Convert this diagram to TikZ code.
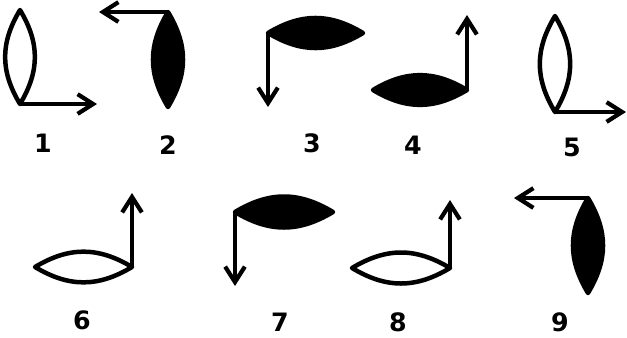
\documentclass[tikz,border=0pt]{standalone}
\usepackage{fontspec}
\setmainfont{DejaVu Sans}
\usetikzlibrary{arrows.meta}

\begin{document}
\begin{tikzpicture}[x=0.025cm, y=-0.025cm,
    lens/.style={line width=3.2pt, line join=round},
    dark/.style={lens, fill=black},
    bulge/.style={bend left=31, looseness=1.05},
    ray/.style={line width=3pt,
        -{Straight Barb[length=11pt, width=14pt, line width=3pt]}},
    num/.style={font=\fontsize{18}{20}\selectfont\bfseries},
]
\useasboundingbox (0,0) rectangle (627,337);

% 1: open lens, ray to the right
\coordinate (t1) at (20,10);
\coordinate (b1) at (20,104);
\coordinate (e1) at (97,104);
\draw[lens] (t1) to[bulge] (b1) to[bulge] cycle;
\draw[ray] (b1) -- (e1);
\node[num] (n1) at (43,143) {1};

% 2: dark lens, ray to the left
\coordinate (t2) at (168,12);
\coordinate (b2) at (168,107);
\coordinate (e2) at (99,12);
\draw[dark] (t2) to[bulge] (b2) to[bulge] cycle;
\draw[ray] (t2) -- (e2);
\node[num] (n2) at (168,145) {2};

% 3: dark lens, ray down
\coordinate (l3) at (268,33);
\coordinate (r3) at (363,33);
\coordinate (e3) at (268,107);
\draw[dark] (l3) to[bulge] (r3) to[bulge] cycle;
\draw[ray] (l3) -- (e3);
\node[num] (n3) at (312,143) {3};

% 4: dark lens, ray up
\coordinate (l4) at (373,90);
\coordinate (r4) at (467,90);
\coordinate (e4) at (467,15);
\draw[dark] (l4) to[bulge] (r4) to[bulge] cycle;
\draw[ray] (r4) -- (e4);
\node[num] (n4) at (413,145) {4};

% 5: open lens, ray to the right
\coordinate (t5) at (555,16);
\coordinate (b5) at (555,112);
\coordinate (e5) at (626,112);
\draw[lens] (t5) to[bulge] (b5) to[bulge] cycle;
\draw[ray] (b5) -- (e5);
\node[num] (n5) at (572,147) {5};

% 6: open lens, ray up
\coordinate (l6) at (35,267);
\coordinate (r6) at (132,267);
\coordinate (e6) at (132,193);
\draw[lens] (l6) to[bulge] (r6) to[bulge] cycle;
\draw[ray] (r6) -- (e6);
\node[num] (n6) at (82,320) {6};

% 7: dark lens, ray down
\coordinate (l7) at (235,212);
\coordinate (r7) at (333,212);
\coordinate (e7) at (235,286);
\draw[dark] (l7) to[bulge] (r7) to[bulge] cycle;
\draw[ray] (l7) -- (e7);
\node[num] (n7) at (280,322) {7};

% 8: open lens, ray up
\coordinate (l8) at (352,268);
\coordinate (r8) at (450,268);
\coordinate (e8) at (450,200);
\draw[lens] (l8) to[bulge] (r8) to[bulge] cycle;
\draw[ray] (r8) -- (e8);
\node[num] (n8) at (398,322) {8};

% 9: dark lens, ray to the left
\coordinate (t9) at (588,198);
\coordinate (b9) at (588,293);
\coordinate (e9) at (514,198);
\draw[dark] (t9) to[bulge] (b9) to[bulge] cycle;
\draw[ray] (t9) -- (e9);
\node[num] (n9) at (560,322) {9};

\end{tikzpicture}
\end{document}
